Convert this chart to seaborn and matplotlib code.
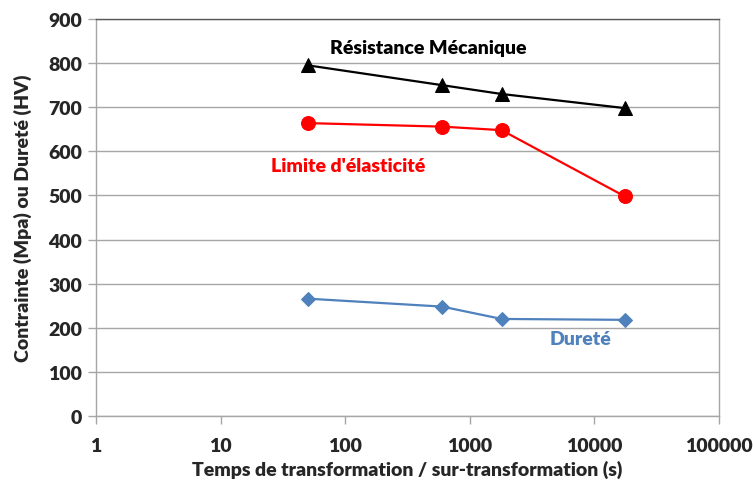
import matplotlib
matplotlib.use("Agg")
import matplotlib.pyplot as plt
import seaborn as sns
import pandas as pd
from matplotlib.ticker import FixedLocator, FixedFormatter, NullLocator

# Transformation times (s) and measured properties
temps = [50, 600, 1800, 17500]
resistance = [795, 750, 730, 698]
limite_elastique = [664, 656, 648, 498]
durete = [266, 248, 220, 218]

x_ticks = [1, 10, 100, 1000, 10000, 100000]
x_tick_labels = ["1", "10", "100", "1000", "10000", "100000"]
y_ticks = [0, 100, 200, 300, 400, 500, 600, 700, 800, 900]

df = pd.DataFrame({
    "temps": temps * 3,
    "valeur": resistance + limite_elastique + durete,
    "serie": ["Résistance Mécanique"] * 4 + ["Limite d'élasticité"] * 4 + ["Dureté"] * 4,
})

sns.set_theme(style="white")
plt.rcParams["font.family"] = ["Lato", "DejaVu Sans"]
plt.rcParams["font.weight"] = "bold"

fig = plt.figure(figsize=(7.53, 4.81), dpi=100)
ax = fig.add_axes([96 / 753, 1 - 417 / 481, (719 - 96) / 753, (417 - 20) / 481])

palette = {"Résistance Mécanique": "#000000",
           "Limite d'élasticité": "#FF0000",
           "Dureté": "#4F81BD"}
markers = {"Résistance Mécanique": "^",
           "Limite d'élasticité": "o",
           "Dureté": "D"}
sizes = {"Résistance Mécanique": 10, "Limite d'élasticité": 10, "Dureté": 7}

for name, sub in df.groupby("serie", sort=False):
    sns.lineplot(data=sub, x="temps", y="valeur", ax=ax, color=palette[name],
                 marker=markers[name], markersize=sizes[name],
                 markeredgecolor=palette[name], linewidth=1.6, zorder=3)

ax.set_xscale("log")
ax.set_xlim(1, 100000)
ax.set_ylim(0, 900)
ax.xaxis.set_major_locator(FixedLocator(x_ticks))
ax.xaxis.set_major_formatter(FixedFormatter(x_tick_labels))
ax.xaxis.set_minor_locator(NullLocator())
ax.set_yticks(y_ticks)

ax.grid(axis="y", color="#A6A6A6", linewidth=1.0)
ax.grid(axis="x", visible=False)
ax.set_axisbelow(True)

for s in ["left", "bottom", "right"]:
    ax.spines[s].set_color("#A6A6A6")
    ax.spines[s].set_linewidth(1.0)
ax.spines["top"].set_color("#595959")
ax.spines["top"].set_linewidth(1.0)

ax.tick_params(axis="both", which="major", direction="out", length=6,
               width=1, color="#A6A6A6", labelsize=14, pad=4,
               bottom=True, left=True)
for lbl in ax.get_xticklabels() + ax.get_yticklabels():
    lbl.set_fontweight("heavy")
ax.tick_params(axis="x", pad=9)

ax.set_xlabel("Temps de transformation / sur-transformation (s)",
              fontsize=14, fontweight="heavy", labelpad=4)
ax.set_ylabel("Contrainte (Mpa) ou Dureté (HV)", fontsize=14,
              fontweight="heavy", labelpad=12)

ax.text(462, 835, "Résistance Mécanique", color="#000000", fontsize=14,
        fontweight="heavy", ha="center", va="center")
ax.text(105, 569, "Limite d'élasticité", color="#FF0000", fontsize=14,
        fontweight="heavy", ha="center", va="center")
ax.text(7670, 175, "Dureté", color="#4F81BD", fontsize=14,
        fontweight="heavy", ha="center", va="center")

fig.savefig("out.png", dpi=100, facecolor="white")
